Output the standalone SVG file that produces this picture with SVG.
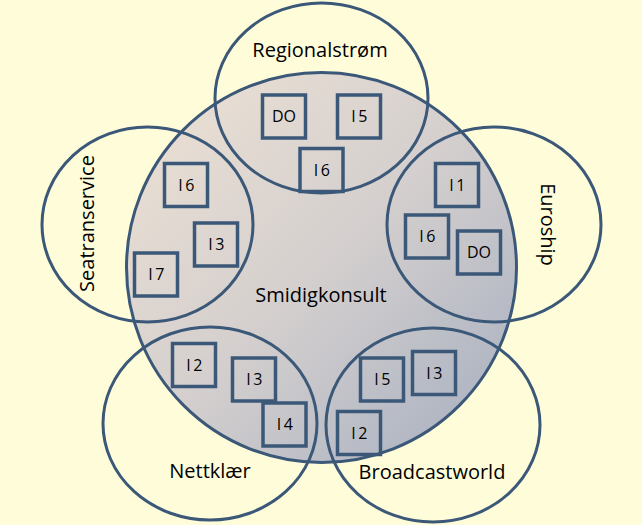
<svg xmlns="http://www.w3.org/2000/svg" width="642" height="525" viewBox="0 0 642 525">
<defs>
<linearGradient id="g" x1="0" y1="0" x2="1" y2="1">
<stop offset="0" stop-color="#EEE2D4"/>
<stop offset="0.5" stop-color="#D4CFCE"/>
<stop offset="1" stop-color="#A3ADBF"/>
</linearGradient>
</defs>
<style>
.c{fill:none;stroke:#3B5878;stroke-width:3}
.b{fill:none;stroke:#3B5878;stroke-width:3.5}
.t{font-family:"Open Sans","Liberation Sans",sans-serif;font-size:20px;fill:#000;text-anchor:middle}
.s{font-family:"Open Sans","Liberation Sans",sans-serif;font-size:16px;fill:#000;text-anchor:middle}
.i{letter-spacing:2.5px}
</style>
<rect width="642" height="525" fill="#FFFCDA"/>
<g id="smidigkonsult">
<circle cx="321.5" cy="267.5" r="195" fill="url(#g)" stroke="#3B5878" stroke-width="3"/>
<text class="t" x="321" y="302">Smidigkonsult</text>
</g>
<g id="regionalstrom">
<ellipse class="c" cx="321.5" cy="98" rx="106.5" ry="95"/>
<text class="t" x="320" y="57">Regionalstrøm</text>
</g>
<g id="euroship">
<ellipse class="c" cx="494" cy="224.5" rx="107" ry="97.5"/>
<text class="t" transform="translate(541,224.5) rotate(90)" x="0" y="0">Euroship</text>
</g>
<g id="seatranservice">
<ellipse class="c" cx="147.5" cy="224.5" rx="105.5" ry="97.5"/>
<text class="t" transform="translate(93.5,223.5) rotate(-90)" x="0" y="0">Seatranservice</text>
</g>
<g id="nettklaer">
<ellipse class="c" cx="210" cy="423.5" rx="107" ry="96.5"/>
<text class="t" x="210" y="478">Nettklær</text>
</g>
<g id="broadcastworld">
<ellipse class="c" cx="433" cy="425" rx="107" ry="97"/>
<text class="t" x="432" y="479">Broadcastworld</text>
</g>
<g id="r-do"><rect class="b" x="262.5" y="95" width="43" height="43"/><text class="s" x="284" y="122">DO</text></g>
<g id="r-i5"><rect class="b" x="337.5" y="95" width="43" height="43"/><text class="s i" x="360.5" y="122">I5</text></g>
<g id="r-i6"><rect class="b" x="300" y="148.5" width="43" height="43"/><text class="s i" x="323" y="175.5">I6</text></g>
<g id="e-i1"><rect class="b" x="435.5" y="163.5" width="43" height="43"/><text class="s i" x="458.5" y="190.5">I1</text></g>
<g id="e-i6"><rect class="b" x="405.5" y="215" width="43" height="43"/><text class="s i" x="428.5" y="242">I6</text></g>
<g id="e-do"><rect class="b" x="457.5" y="231" width="43" height="43"/><text class="s" x="479" y="258">DO</text></g>
<g id="s-i6"><rect class="b" x="164.5" y="163.5" width="43" height="43"/><text class="s i" x="187.5" y="190.5">I6</text></g>
<g id="s-i3"><rect class="b" x="194.5" y="223" width="43" height="43"/><text class="s i" x="217.5" y="250">I3</text></g>
<g id="s-i7"><rect class="b" x="134.5" y="253" width="43" height="43"/><text class="s i" x="157.5" y="280">I7</text></g>
<g id="n-i2"><rect class="b" x="172.5" y="343.5" width="43" height="43"/><text class="s i" x="195.5" y="370.5">I2</text></g>
<g id="n-i3"><rect class="b" x="232.5" y="358" width="43" height="43"/><text class="s i" x="255.5" y="385">I3</text></g>
<g id="n-i4"><rect class="b" x="263" y="403" width="43" height="43"/><text class="s i" x="286" y="430">I4</text></g>
<g id="b-i5"><rect class="b" x="360.5" y="358" width="43" height="43"/><text class="s i" x="383.5" y="385">I5</text></g>
<g id="b-i3"><rect class="b" x="412.5" y="351.5" width="43" height="43"/><text class="s i" x="435.5" y="378.5">I3</text></g>
<g id="b-i2"><rect class="b" x="337.5" y="411.5" width="43" height="43"/><text class="s i" x="360.5" y="438.5">I2</text></g>
<g id="connectors"/>
</svg>
